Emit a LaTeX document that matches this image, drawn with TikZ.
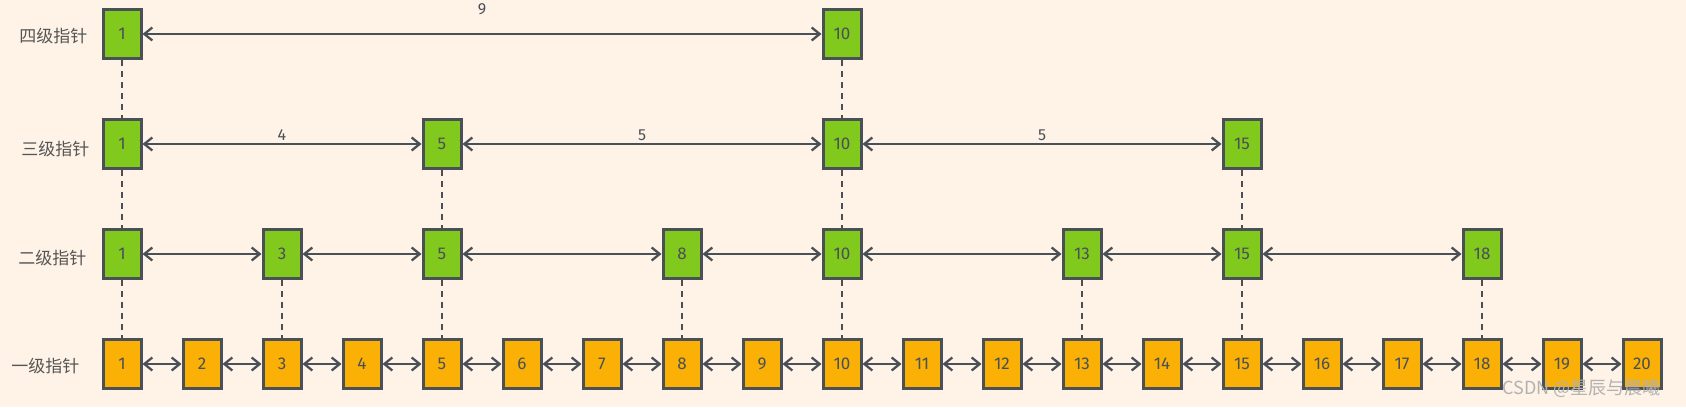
\documentclass[tikz,border=0pt]{standalone}
\usepackage{fontspec}
\usepackage{tikz}
\usetikzlibrary{arrows.meta}
\setsansfont{Fira Sans}
\newfontfamily\cjk{Noto Sans CJK SC}
\definecolor{mybg}{HTML}{FEF3E6}
\definecolor{mygreen}{HTML}{82C91E}
\definecolor{myorange}{HTML}{FAB005}
\definecolor{myline}{HTML}{495057}
\definecolor{mytext}{HTML}{555555}

\begin{document}
\begin{tikzpicture}[x=1pt,y=-1pt,
    keybox/.style={draw=myline,line width=3pt,minimum width=38pt,minimum height=49pt,
      inner sep=0pt,font=\sffamily\fontsize{17}{17}\selectfont,text=myline},
    greenbox/.style={keybox,fill=mygreen},
    orangebox/.style={keybox,fill=myorange},
    link/.style={draw=myline,line width=2.3pt,{Straight Barb[length=8pt,width=13pt]}-{Straight Barb[length=8pt,width=13pt]}},
    updown/.style={draw=myline,line width=2pt,dashed,dash pattern=on 6pt off 5pt},
    rowlabel/.style={anchor=east,font=\cjk\fontsize{17}{17}\selectfont,text=mytext},
    hoplabel/.style={font=\sffamily\fontsize{16}{16}\selectfont,text=myline}]
  \fill[mybg] (0,0) rectangle (1686,407);
  \useasboundingbox (0,0) rectangle (1686,407);
  \node[rowlabel] (r4) at (91,36) {四级指针};
  \node[rowlabel] (r3) at (93,149) {三级指针};
  \node[rowlabel] (r2) at (90,258) {二级指针};
  \node[rowlabel] (r1) at (83,366) {一级指针};
  \foreach \k in {1,...,20}
    \node[orangebox] (a\k) at ({122+80*(\k-1)},364) {\k};
  \foreach \k in {1,3,5,8,10,13,15,18}
    \node[greenbox] (b\k) at ({122+80*(\k-1)},254) {\k};
  \foreach \k in {1,5,10,15}
    \node[greenbox] (c\k) at ({122+80*(\k-1)},144) {\k};
  \foreach \k in {1,10}
    \node[greenbox] (d\k) at ({122+80*(\k-1)},34) {\k};
  \foreach \k in {1,10} \draw[updown] (d\k) -- (c\k);
  \foreach \k in {1,5,10,15} \draw[updown] (c\k) -- (b\k);
  \foreach \k in {1,3,5,8,10,13,15,18} \draw[updown] (b\k) -- (a\k);
  \foreach \k [evaluate=\k as \n using int(\k+1)] in {1,...,19}
    \draw[link] (a\k.east) -- (a\n.west);
  \foreach \k/\n in {1/3,3/5,5/8,8/10,10/13,13/15,15/18}
    \draw[link] (b\k.east) -- (b\n.west);
  \foreach \k/\n/\d in {1/5/4,5/10/5,10/15/5}
    \draw[link] (c\k.east) -- node[hoplabel,above=-1pt] (h\k) {\d} (c\n.west);
  \draw[link] (d1.east) -- node[hoplabel,above=15pt] (h0) {9} (d10.west);
  \node[anchor=west,font=\cjk\fontsize{18}{18}\selectfont,text=black!30] (mark) at (1499,388) {CSDN @星辰与晨曦};
\end{tikzpicture}
\end{document}
